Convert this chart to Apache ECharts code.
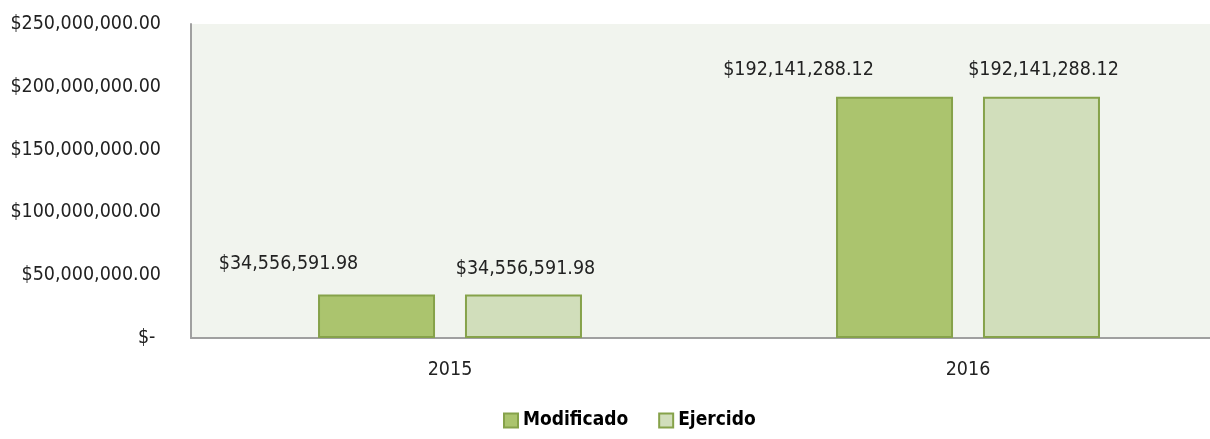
<!DOCTYPE html>
<html>
<head>
<meta charset="utf-8">
<style>
  html, body { margin: 0; padding: 0; background: #ffffff; overflow: hidden; }
  #chart { width: 1227px; height: 439px; }
</style>
<script src="https://cdn.jsdelivr.net/npm/echarts@6/dist/echarts.min.js"></script>
</head>
<body>
<div id="chart"></div>
<script>
// Years on the category axis
const years = ['2015', '2016'];
// Budget amounts per year
const modificado = [34556591.98, 192141288.12];
const ejercido = [34556591.98, 192141288.12];
// Value axis range
const yMin = 0;
const yMax = 250000000;
const yStep = 50000000;

const FONT = '"DejaVu Sans Condensed", "Liberation Sans Narrow", sans-serif';

function money(v) {
  if (v === 0) return '$- ';
  return '$' + v.toLocaleString('en-US', { minimumFractionDigits: 2, maximumFractionDigits: 2 });
}

// label placement for each bar (dx, dy relative to the default top position)
const modOffsets = [[-88, -1], [-96, 3]];
const ejeOffsets = [[2, 4], [2, 3]];

function withLabels(values, offsets) {
  return values.map((v, i) => ({
    value: v,
    label: { offset: offsets[i] }
  }));
}

const chart = echarts.init(document.getElementById('chart'));
chart.setOption({
  animation: false,
  backgroundColor: '#ffffff',
  textStyle: { fontFamily: FONT },
  grid: {
    left: 191, top: 24, right: 0, height: 314,
    show: true, backgroundColor: '#F1F4EE', borderWidth: 0,
    containLabel: false
  },
  legend: {
    bottom: 4, left: 498,
    itemWidth: 14, itemHeight: 14, itemGap: 30,
    icon: 'rect',
    textStyle: { fontFamily: FONT, fontSize: 19, fontWeight: 'bold', color: '#000000' },
    data: ['Modificado', 'Ejercido']
  },
  xAxis: {
    type: 'category',
    data: years,
    axisLine: { lineStyle: { color: '#A0A0A0', width: 2 } },
    axisTick: { show: false },
    axisLabel: { color: '#222222', fontSize: 19.5, fontFamily: FONT, margin: 22 }
  },
  yAxis: {
    type: 'value',
    min: yMin, max: yMax, interval: yStep,
    axisLine: { show: true, lineStyle: { color: '#A0A0A0', width: 2 } },
    axisTick: { show: false },
    splitLine: { show: false },
    axisLabel: { color: '#222222', fontSize: 19.5, fontFamily: FONT, margin: 30, formatter: money }
  },
  series: [
    {
      name: 'Modificado', type: 'bar',
      data: withLabels(modificado, modOffsets),
      barWidth: 117, barGap: '25.6%',
      itemStyle: { color: '#ABC46E', borderColor: '#86A24A', borderWidth: 2 },
      label: { show: true, position: 'top', distance: 20, color: '#222222', fontSize: 19.5, fontFamily: FONT, formatter: p => money(p.value) }
    },
    {
      name: 'Ejercido', type: 'bar',
      data: withLabels(ejercido, ejeOffsets),
      barWidth: 117,
      itemStyle: { color: '#D1DEBB', borderColor: '#86A24A', borderWidth: 2 },
      label: { show: true, position: 'top', distance: 20, color: '#222222', fontSize: 19.5, fontFamily: FONT, formatter: p => money(p.value) }
    }
  ]
});
</script>
</body>
</html>
